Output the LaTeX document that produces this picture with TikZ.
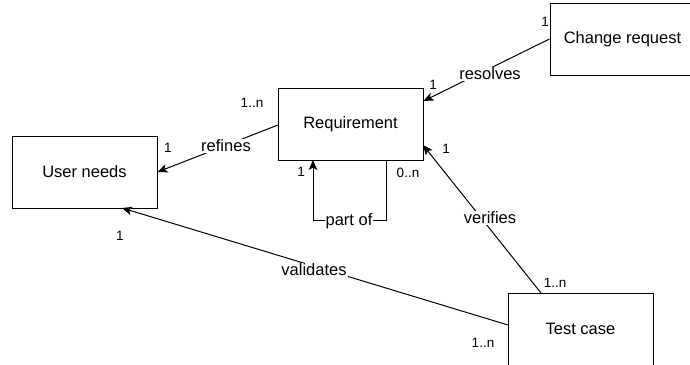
\documentclass[tikz,border=0pt]{standalone}
\usepackage{fontspec}
\setmainfont{Liberation Sans}
\usetikzlibrary{arrows.meta}
\begin{document}
\begin{tikzpicture}[x=1pt,y=-1pt,
  box/.style={draw,line width=1pt,minimum width=145pt,minimum height=72pt,inner sep=0pt,font=\fontsize{16.5}{19}\selectfont},
  conn/.style={line width=1pt,-{Stealth[length=10pt,width=8.5pt,inset=2.5pt]}},
  lbl/.style={fill=white,inner sep=1pt,font=\fontsize{16.5}{19}\selectfont},
  mult/.style={inner sep=0pt,font=\fontsize{13.5}{15}\selectfont}]
\useasboundingbox (0,0) rectangle (690,364);
\node[box] (cr) at (622.5,39) {Change request};
\node[box] (req) at (350.5,124) {Requirement};
\node[box] (un) at (84.5,172) {User needs};
\node[box] (tc) at (580.5,329) {Test case};
% resolves
\draw[conn] (cr.west) -- (req.east |- 0,101);
\node[lbl] at (490,74) {resolves};
\node[mult] at (545,22) {1};
\node[mult] at (433,85) {1};
% refines
\coordinate (rf0) at (278,125);
\draw[conn] (rf0) -- (un.east);
\node[lbl] at (226,146) {refines};
\node[mult] at (252,103) {1..n};
\node[mult] at (168,148) {1};
% part of
\coordinate (p1) at (386,160);
\coordinate (p2) at (313,160);
\draw[conn] (p1) -- (386,220) -- (313,220) -- (p2);
\node[lbl,inner sep=0.5pt] at (349,221) {part of};
\node[mult] at (301,172) {1};
\node[mult] at (408,173) {0..n};
% verifies
\coordinate (v0) at (541,293);
\coordinate (v1) at (423,145);
\draw[conn] (v0) -- (v1);
\node[lbl] at (490,218) {verifies};
\node[mult] at (446,149) {1};
\node[mult] at (555,283) {1..n};
% validates
\coordinate (va0) at (508,325);
\coordinate (va1) at (122,208);
\draw[conn] (va0) -- (va1);
\node[lbl] at (314,270) {validates};
\node[mult] at (120,236) {1};
\node[mult] at (483,343) {1..n};
\end{tikzpicture}
\end{document}
